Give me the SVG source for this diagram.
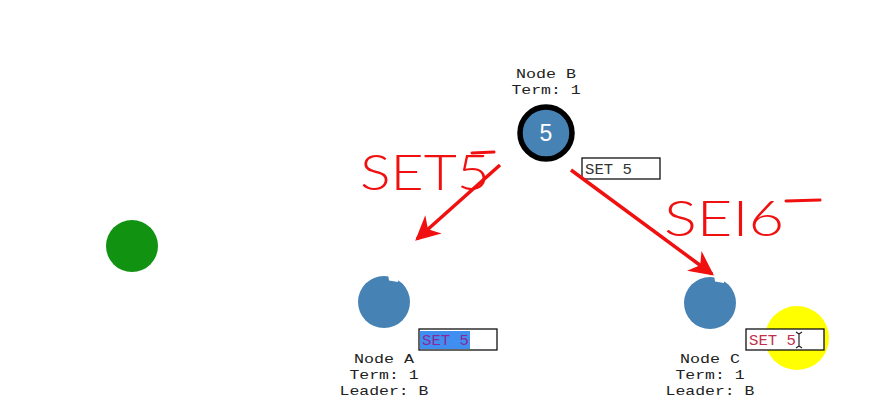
<svg xmlns="http://www.w3.org/2000/svg" width="879" height="418" viewBox="0 0 879 418">
<style>
.lbl{font-family:"Liberation Mono","Courier New",monospace;font-size:13.5px;fill:#222;text-anchor:middle}
.box{fill:#fff;stroke:#111;stroke-width:1.3}
.boxt{font-family:"Liberation Mono","Courier New",monospace;font-size:14px}
.node{fill:#4682b4}
.hand{font-family:Lato,"Liberation Sans",sans-serif;font-weight:300;font-size:50px;fill:#f01010}
.arrow{stroke:#f01010;stroke-width:3.5;fill:none}
</style>
<defs>
<marker id="ah" viewBox="0 0 10 10" refX="9" refY="5" markerWidth="7" markerHeight="7" markerUnits="strokeWidth" orient="auto">
<path d="M0,0 L10,5 L0,10 L3,5 Z" fill="#f01010"/>
</marker>
</defs>
<rect width="879" height="418" fill="#fff"/>

<g id="green">
<circle cx="132" cy="246" r="26" fill="#119211"/>
</g>

<g id="nodeB">
<text class="lbl" x="546" y="78" textLength="60" lengthAdjust="spacingAndGlyphs">Node B</text>
<text class="lbl" x="546" y="94" textLength="69" lengthAdjust="spacingAndGlyphs">Term: 1</text>
<circle cx="546" cy="133" r="26" class="node" stroke="#000" stroke-width="5.5"/>
<text x="546" y="141" font-family="Liberation Sans,Arial,sans-serif" font-size="23" fill="#fff" text-anchor="middle">5</text>
<rect class="box" x="582" y="158" width="78" height="21"/>
<text class="boxt" x="585" y="174" fill="#333" textLength="47" lengthAdjust="spacingAndGlyphs">SET 5</text>
</g>

<g id="nodeA">
<circle class="node" cx="384" cy="302" r="26"/>
<path d="M388,274 L389,280.5 L398,282 L399,274 Z" fill="#fff"/>
<text class="lbl" x="384" y="363" textLength="60" lengthAdjust="spacingAndGlyphs">Node A</text>
<text class="lbl" x="384" y="379" textLength="69" lengthAdjust="spacingAndGlyphs">Term: 1</text>
<text class="lbl" x="384" y="395" textLength="89" lengthAdjust="spacingAndGlyphs">Leader: B</text>
<rect class="box" x="419" y="329" width="78" height="21"/>
<rect x="420" y="331" width="50" height="18" fill="#3f8ef0"/>
<text class="boxt" x="422" y="345" fill="#8a2a9a" textLength="47" lengthAdjust="spacingAndGlyphs">SET 5</text>
</g>

<g id="nodeC">
<circle class="node" cx="710" cy="303" r="26"/>
<path d="M714,275 L715,281.5 L724,283 L725,275 Z" fill="#fff"/>
<text class="lbl" x="710" y="363" textLength="60" lengthAdjust="spacingAndGlyphs">Node C</text>
<text class="lbl" x="710" y="379" textLength="69" lengthAdjust="spacingAndGlyphs">Term: 1</text>
<text class="lbl" x="710" y="395" textLength="89" lengthAdjust="spacingAndGlyphs">Leader: B</text>
<circle cx="797" cy="338" r="32" fill="#ffff00"/>
<rect class="box" x="746" y="329" width="78" height="21"/>
<text class="boxt" x="749" y="345" fill="#c0304a" textLength="47" lengthAdjust="spacingAndGlyphs">SET 5</text>
<path d="M796,332 L799,334 L802,332 M799,334 L799,346 M796,348 L799,346 L802,348" stroke="#222" stroke-width="1.2" fill="none"/>
</g>

<g id="connectors">
<line class="arrow" x1="500" y1="165" x2="417" y2="239" marker-end="url(#ah)"/>
<line class="arrow" x1="571" y1="170" x2="712" y2="274" marker-end="url(#ah)"/>
</g>

<g id="annotations">
<text class="hand" x="360" y="190" textLength="130" lengthAdjust="spacingAndGlyphs">SET5</text>
<line x1="472" y1="153" x2="494" y2="152" stroke="#f01010" stroke-width="3" stroke-linecap="round"/>
<text class="hand" x="664" y="236" textLength="120" lengthAdjust="spacingAndGlyphs">SEI6</text>
<line x1="786" y1="201" x2="820" y2="200" stroke="#f01010" stroke-width="3" stroke-linecap="round"/>
</g>
</svg>
